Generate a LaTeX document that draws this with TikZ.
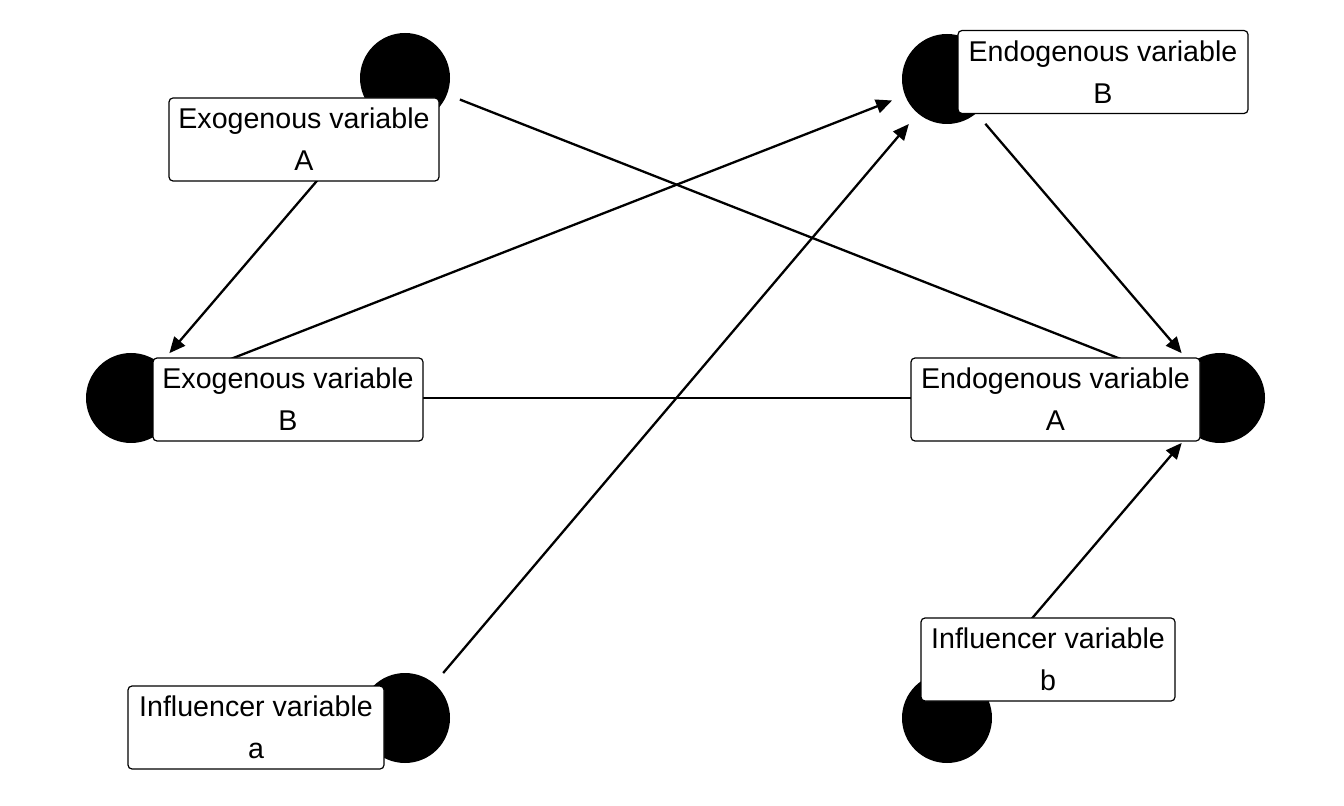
\documentclass[tikz,border=0pt]{standalone}
\usepackage{fontspec}
\setmainfont{Liberation Sans}
\usetikzlibrary{arrows.meta, positioning}

\begin{document}
\begin{tikzpicture}[x=0.5pt, y=-0.5pt,
        dot/.style={circle, fill=black, minimum size=45pt, inner sep=0pt, outer sep=0pt},
        varbox/.style={draw, fill=white, rounded corners=2pt, line width=0.6pt, align=center,
            font=\fontsize{14.3}{21}\selectfont, inner xsep=0pt, minimum height=41.5pt},
        link/.style={line width=1.15pt, shorten <=7pt, shorten >=7pt},
        effect/.style={link, -{Triangle[length=8pt, width=7pt]}}]

        \useasboundingbox (0,0) rectangle (1344,806);

        % circles
        \node[dot] (exoAdot) at (405,78) {};
        \node[dot] (endoBdot) at (947,79) {};
        \node[dot] (exoBdot) at (131,398) {};
        \node[dot] (endoAdot) at (1220,398) {};
        \node[dot] (inflAdot) at (405,718) {};
        \node[dot] (inflBdot) at (947,718) {};

        % paths
        \draw[effect] (exoAdot) -- (exoBdot);
        \draw[effect] (exoBdot) -- (endoBdot);
        \draw[effect] (exoAdot) -- (endoAdot);
        \draw[effect] (inflAdot) -- (endoBdot);
        \draw[effect] (endoBdot) -- (endoAdot);
        \draw[effect] (inflBdot) -- (endoAdot);
        \draw[link] (exoBdot) -- (endoAdot);

        % labels
        \node[varbox, minimum width=135pt] (exoA) at (304,139.5) {Exogenous variable\\A};
        \node[varbox, minimum width=145pt] (endoB) at (1103,72) {Endogenous variable\\B};
        \node[varbox, minimum width=135pt] (exoB) at (288,399.5) {Exogenous variable\\B};
        \node[varbox, minimum width=144.5pt] (endoA) at (1055.5,399.5) {Endogenous variable\\A};
        \node[varbox, minimum width=128pt] (inflA) at (256,727.5) {Influencer variable\\a};
        \node[varbox, minimum width=127pt] (inflB) at (1048,659.5) {Influencer variable\\b};
\end{tikzpicture}
\end{document}
